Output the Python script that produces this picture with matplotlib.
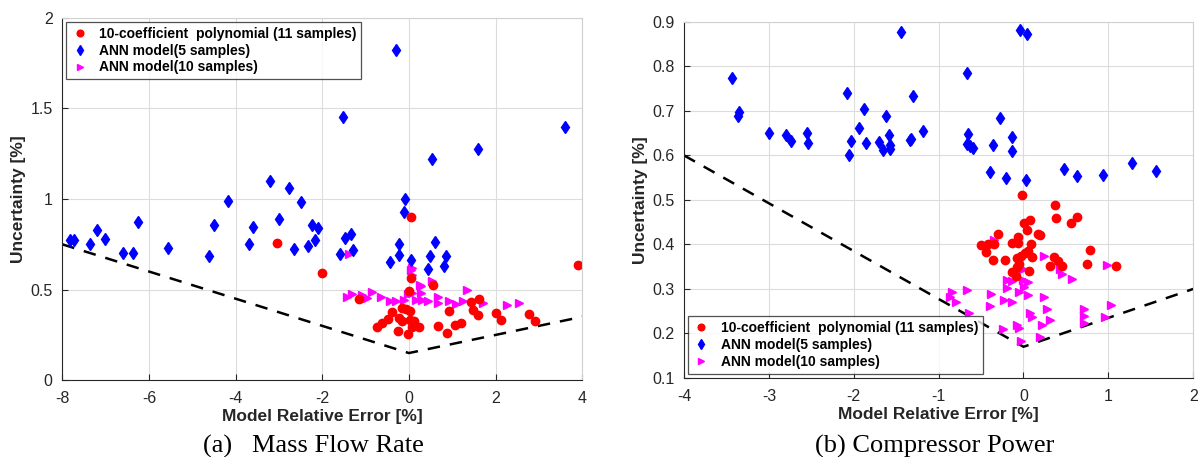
import numpy as np
import matplotlib.pyplot as plt

# (a) mass flow rate
a_poly_x = [-3.05, -2.0, -1.15, 0.04, 0.05, 0.0, 0.56, -0.39, -0.48, -0.62, -0.73, -0.23, -0.17, -0.06,
            0.02, -0.16, 0.02, 0.12, 0.08, 0.23, -0.25, -0.02, 0.68, 0.87, 0.93, 1.07, 1.20, 1.43, 1.48,
            1.62, 1.60, 2.01, 2.12, 2.77, 2.92, 3.90]
a_poly_y = [0.760, 0.592, 0.448, 0.902, 0.564, 0.49, 0.528, 0.377, 0.338, 0.316, 0.296, 0.343, 0.399, 0.395,
            0.38, 0.325, 0.332, 0.325, 0.296, 0.292, 0.273, 0.255, 0.299, 0.262, 0.384, 0.303, 0.314, 0.432, 0.388,
            0.450, 0.358, 0.373, 0.332, 0.367, 0.325, 0.634]
a_ann5_x = [-7.83, -7.73, -7.36, -7.21, -7.01, -6.59, -6.36, -6.26, -5.55, -4.61, -4.49, -4.17, -3.68, -3.61,
            -3.21, -2.99, -2.77, -2.65, -2.50, -2.32, -2.24, -2.16, -2.09, -1.59, -1.53, -1.48, -1.34, -1.28,
            -0.44, -0.29, -0.22, -0.22, -0.12, -0.09, 0.05, 0.45, 0.49, 0.53, 0.60, 0.82, 0.85, 1.60, 3.60]
a_ann5_y = [0.773, 0.773, 0.751, 0.828, 0.780, 0.701, 0.701, 0.874, 0.730, 0.683, 0.854, 0.988, 0.754, 0.846,
            1.097, 0.892, 1.063, 0.723, 0.984, 0.741, 0.854, 0.776, 0.841, 0.696, 1.454, 0.784, 0.808, 0.716,
            0.651, 1.820, 0.753, 0.690, 0.927, 1.001, 0.664, 0.615, 0.683, 1.222, 0.765, 0.629, 0.686, 1.277, 1.395]
a_ann10_x = [-1.38, 0.05, 0.08, -1.42, -1.31, -1.09, -0.97, -0.86, -0.65, -0.43, -0.30, -0.12, -0.02, 0.08,
             0.25, 0.27, 0.17, 0.31, 0.45, 0.54, 0.66, 0.67, 0.93, 1.09, 1.24, 1.35, 1.71, 2.27, 2.53, 0.07, 0.29]
a_ann10_y = [0.697, 0.61, 0.583, 0.461, 0.476, 0.472, 0.454, 0.487, 0.458, 0.436, 0.439, 0.443, 0.476, 0.48,
             0.524, 0.482, 0.443, 0.443, 0.436, 0.55, 0.458, 0.428, 0.439, 0.421, 0.436, 0.498, 0.424, 0.413, 0.424,
             0.62, 0.52]
a_bound_x = [-8, 0, 4]
a_bound_y = [0.75, 0.15, 0.35]

# (b) compressor power
b_poly_x = [-0.02, 0.37, 0.38, 0.56, 0.63, 0.01, 0.08, 0.04, -0.30, -0.07, -0.13, -0.06, 0.09, 0.17, 0.20,
            -0.50, -0.42, -0.35, -0.44, -0.36, -0.22, -0.08, -0.03, 0.02, 0.05, 0.10, -0.05, -0.08, -0.13, -0.09,
            0.06, 0.31, 0.36, 0.41, 0.45, 0.75, 0.78, 1.09]
b_poly_y = [0.512, 0.489, 0.460, 0.448, 0.461, 0.448, 0.454, 0.432, 0.424, 0.417, 0.403, 0.403, 0.401, 0.424, 0.421,
            0.398, 0.401, 0.401, 0.383, 0.365, 0.365, 0.369, 0.374, 0.380, 0.386, 0.371, 0.356, 0.350, 0.337, 0.328,
            0.341, 0.352, 0.371, 0.363, 0.352, 0.356, 0.387, 0.352]
b_ann5_x = [-3.44, -3.35, -3.36, -3.00, -2.80, -2.74, -2.55, -2.54, -2.08, -2.06, -2.03, -1.94, -1.88, -1.86,
            -1.70, -1.65, -1.62, -1.58, -1.57, -1.57, -1.44, -1.34, -1.32, -1.30, -1.18, -0.67, -0.65, -0.66,
            -0.63, -0.60, -0.40, -0.36, -0.28, -0.21, -0.14, -0.13, -0.04, 0.04, 0.03, 0.48, 0.63, 0.94, 1.28, 1.56]
b_ann5_y = [0.773, 0.697, 0.688, 0.650, 0.646, 0.633, 0.650, 0.629, 0.741, 0.601, 0.632, 0.661, 0.704, 0.627,
            0.631, 0.612, 0.689, 0.647, 0.623, 0.615, 0.878, 0.635, 0.638, 0.733, 0.656, 0.786, 0.649, 0.626,
            0.621, 0.617, 0.563, 0.623, 0.685, 0.549, 0.642, 0.611, 0.881, 0.873, 0.545, 0.570, 0.553, 0.555,
            0.582, 0.566]
b_ann10_x = [-0.35, 0.24, 0.98, 0.0, 0.43, 0.45, 0.57, -0.19, -0.13, -0.20, 0.0, 0.05, -0.05, 0.01, 0.05, 0.24,
             -0.84, -0.67, -0.87, -0.79, -0.38, -0.40, -0.23, -0.13, -0.64, 0.08, 0.10, 0.28, 0.31, 0.22, 0.71,
             0.71, 0.71, 1.03, 0.96, -0.24, -0.08, -0.05, 0.20, -0.03]
b_ann10_y = [0.409, 0.375, 0.354, 0.344, 0.344, 0.334, 0.323, 0.319, 0.317, 0.302, 0.319, 0.316, 0.294, 0.304,
             0.287, 0.282, 0.294, 0.298, 0.282, 0.270, 0.288, 0.261, 0.276, 0.270, 0.245, 0.245, 0.237, 0.255,
             0.230, 0.220, 0.255, 0.239, 0.224, 0.265, 0.236, 0.210, 0.219, 0.213, 0.193, 0.184]
b_bound_x = [-4, 0, 2]
b_bound_y = [0.6, 0.17, 0.30]

lab_poly = '10-coefficient  polynomial (11 samples)'
lab_ann5 = 'ANN model(5 samples)'
lab_ann10 = 'ANN model(10 samples)'

plt.rcParams['font.family'] = ['Liberation Sans', 'DejaVu Sans']
plt.rcParams['axes.unicode_minus'] = False

fig = plt.figure(figsize=(11.98, 4.57), dpi=100)
ax1 = fig.add_axes([0.052, 0.168, 0.434, 0.793])
ax2 = fig.add_axes([0.571, 0.173, 0.425, 0.779])


def style(ax):
    ax.grid(True, color='#dcdcdc', lw=0.8)
    ax.set_axisbelow(True)
    ax.tick_params(direction='in', labelsize=11.5, colors='#262626', length=4)
    ax.tick_params(axis='x', pad=8)
    ax.tick_params(axis='y', pad=7)
    for s in ['top', 'right']:
        ax.spines[s].set_color('#d0d0d0')
    for s in ['left', 'bottom']:
        ax.spines[s].set_color('#262626')
    ax.set_xlabel('Model Relative Error [%]', fontsize=12.5, fontweight='bold', color='#262626', labelpad=2)
    ax.set_ylabel('Uncertainty [%]', fontsize=12.5, fontweight='bold', color='#262626', labelpad=3)


for ax, px, py, d5x, d5y, d10x, d10y, bx, by in [
        (ax1, a_poly_x, a_poly_y, a_ann5_x, a_ann5_y, a_ann10_x, a_ann10_y, a_bound_x, a_bound_y),
        (ax2, b_poly_x, b_poly_y, b_ann5_x, b_ann5_y, b_ann10_x, b_ann10_y, b_bound_x, b_bound_y)]:
    ax.plot(bx, by, 'k--', lw=1.8, dashes=(5, 4))
    ax.plot(d10x, d10y, '>', color='#ff00ff', ms=6, ls='none', label=lab_ann10)
    ax.plot(d5x, d5y, 'd', color='#0000ff', ms=6.5, ls='none', label=lab_ann5)
    ax.plot(px, py, 'o', color='#ff0000', ms=6, ls='none', label=lab_poly)
    style(ax)

ax1.set_xlim(-8, 4)
ax1.set_ylim(0, 2)
ax1.set_xticks(np.arange(-8, 5, 2))
ax1.set_yticks([0, 0.5, 1, 1.5, 2])
ax1.set_yticklabels(['0', '0.5', '1', '1.5', '2'])

ax2.set_xlim(-4, 2)
ax2.set_ylim(0.1, 0.9)
ax2.set_xticks(np.arange(-4, 3, 1))
ax2.set_yticks(np.arange(0.1, 0.91, 0.1))
ax2.set_yticklabels(['0.1', '0.2', '0.3', '0.4', '0.5', '0.6', '0.7', '0.8', '0.9'])

for ax, loc in [(ax1, 'upper left'), (ax2, 'lower left')]:
    h, l = ax.get_legend_handles_labels()
    leg = ax.legend(h[::-1], l[::-1], loc=loc, fancybox=False, edgecolor='#262626',
                    prop={'weight': 'bold', 'size': 10}, handlelength=1.2, markerscale=0.8,
                    borderaxespad=0.3, labelspacing=0.2, borderpad=0.35)
    leg.get_frame().set_linewidth(0.9)

fig.text(0.262, 0.022, '(a)   Mass Flow Rate', ha='center', va='center',
         family='Liberation Serif', fontsize=19)
fig.text(0.780, 0.022, '(b) Compressor Power', ha='center', va='center',
         family='Liberation Serif', fontsize=19)

fig.savefig('out.png', dpi=100)
